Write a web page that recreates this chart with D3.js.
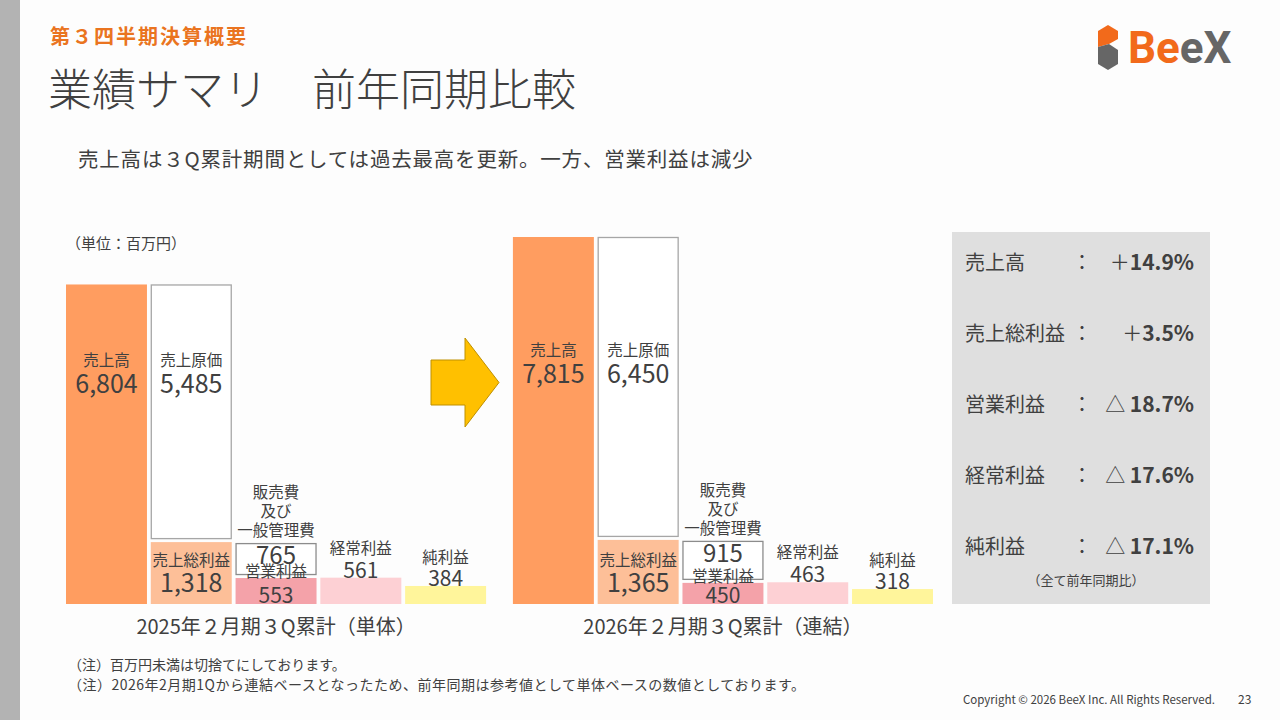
<!DOCTYPE html>
<html lang="ja">
<head>
<meta charset="utf-8">
<script src="https://cdn.jsdelivr.net/npm/d3@7"></script>
<style>
  html, body { margin: 0; padding: 0; background: #fdfdfd; }
  svg { display: block; font-family: "Noto Sans CJK JP", "Noto Sans", sans-serif; }
</style>
</head>
<body>
<svg id="slide" width="1280" height="720"></svg>
<script>
/* 業績サマリ 前年同期比較 */

const periods = ["2025年２月期３Q累計（単体）", "2026年２月期３Q累計（連結）"];
const sales = [6804, 7815];
const costOfSales = [5485, 6450];
const grossProfit = [1318, 1365];
const sgaExpenses = [765, 915];
const operatingProfit = [553, 450];
const ordinaryProfit = [561, 463];
const netProfit = [384, 318];

const yoyLabels = ["売上高", "売上総利益", "営業利益", "経常利益", "純利益"];
const yoySigns = ["＋", "＋", "△ ", "△ ", "△ "];
const yoyValues = ["14.9%", "3.5%", "18.7%", "17.6%", "17.1%"];

const TEXT = "#404040";
const svg = d3.select("#slide");

svg.append("rect").attr("width", 1280).attr("height", 720).attr("fill", "#fdfdfd");
svg.append("rect").attr("width", 20).attr("height", 720).attr("fill", "#b3b3b3");

// Header
svg.append("text").attr("x", 50).attr("y", 44)
  .attr("font-size", 20).attr("font-weight", 700).attr("fill", "#ea7420")
  .attr("letter-spacing", 2)
  .text("第３四半期決算概要");
svg.append("text").attr("x", 48).attr("y", 106)
  .attr("font-size", 44).attr("font-weight", 300).attr("fill", TEXT)
  .text("業績サマリ　前年同期比較");
svg.append("text").attr("x", 78).attr("y", 167)
  .attr("font-size", 20.5).attr("letter-spacing", 0.8).attr("fill", TEXT)
  .text("売上高は３Q累計期間としては過去最高を更新。一方、営業利益は減少");

// Logo
const logo = svg.append("g");
logo.append("polygon").attr("points", "1098,31 1108,25 1118,31 1118,39 1109,44 1098,47").attr("fill", "#f26a1b");
logo.append("polygon").attr("points", "1098,47 1109,44 1118,50 1118,64 1108,70 1098,64").attr("fill", "#666666");
const logoText = logo.append("text").attr("x", 1128).attr("y", 63)
  .attr("font-family", "Roboto, sans-serif").attr("font-size", 44).attr("font-weight", 700);
logoText.append("tspan").attr("fill", "#f26a1b").text("Be");
logoText.append("tspan").attr("fill", "#666666").text("eX");

svg.append("text").attr("x", 66).attr("y", 249)
  .attr("font-size", 15).attr("fill", TEXT).text("（単位：百万円）");

// Scales
const baseY = 604;
const y = d3.scaleLinear().domain([0, d3.max(sales)]).range([baseY, 237]);
const xPeriod = d3.scaleBand().domain(periods).range([66, 933]).paddingInner(0.06);
const xCol = d3.scaleBand().domain(d3.range(5)).range([0, xPeriod.bandwidth()]).paddingInner(0.045);
const bw = xCol.bandwidth();
const cx = c => xCol(c) + bw / 2;

const fills = ["#ff9d60", "#fdbf98", "#f4a2a9", "#fdd0d4", "#fff59b"];
const headY = [366, 356]; // 売上高 / 売上原価 label position per chart

const rows = periods.map((p, i) => ({
  period: p, i,
  sales: sales[i], cost: costOfSales[i], gross: grossProfit[i],
  sga: sgaExpenses[i], op: operatingProfit[i], ord: ordinaryProfit[i], net: netProfit[i]
}));

const charts = svg.selectAll("g.chart")
  .data(rows)
  .join("g")
  .attr("class", "chart")
  .attr("transform", d => `translate(${xPeriod(d.period)},0)`);

// Filled bars
charts.selectAll("rect.bar")
  .data(d => [d.sales, d.gross, d.op, d.ord, d.net].map((v, c) => ({ v, c })))
  .join("rect")
  .attr("class", "bar")
  .attr("x", d => xCol(d.c))
  .attr("y", d => y(d.v))
  .attr("width", bw)
  .attr("height", d => baseY - y(d.v))
  .attr("fill", d => fills[d.c]);

// Outlined boxes: 売上原価 (sales -> gross) and 販管費 (gross -> operating)
charts.selectAll("rect.box")
  .data(d => [
    { c: 1, top: y(d.sales), bottom: y(d.gross) - 3 },
    { c: 2, top: y(d.gross) + 1, bottom: y(d.op) - 3 }
  ])
  .join("rect")
  .attr("class", "box")
  .attr("x", d => xCol(d.c) + 0.5)
  .attr("y", d => d.top + 0.5)
  .attr("width", bw - 1)
  .attr("height", d => d.bottom - d.top - 1)
  .attr("fill", "#ffffff")
  .attr("stroke", (d, i) => i === 0 ? "#a6a6a6" : "#8c8c8c")
  .attr("stroke-width", 1.3);

const fmt = d3.format(",");
function txt(g, x, yy, s, size) {
  return g.append("text").attr("x", x).attr("y", yy)
    .attr("text-anchor", "middle").attr("font-size", size).attr("fill", TEXT).text(s);
}

charts.each(function (d) {
  const g = d3.select(this);
  const hy = headY[d.i];
  // 売上高
  txt(g, cx(0), hy, "売上高", 15.5);
  txt(g, cx(0), hy + 27, fmt(d.sales), 25);
  // 売上原価
  txt(g, cx(1), hy, "売上原価", 15.5);
  txt(g, cx(1), hy + 27, fmt(d.cost), 25);
  // 売上総利益
  txt(g, cx(1), baseY - 38, "売上総利益", 15.5);
  txt(g, cx(1), baseY - 12, fmt(d.gross), 25);
  // 販売費及び一般管理費
  const sgaTop = y(d.gross);
  ["販売費", "及び", "一般管理費"].forEach((s, k) =>
    txt(g, cx(2), sgaTop - 6 - 19 * (2 - k), s, 15.5));
  txt(g, cx(2), sgaTop + 22, fmt(d.sga), 24);
  // 営業利益
  txt(g, cx(2), y(d.op) - 1, "営業利益", 15.5);
  txt(g, cx(2), baseY - 1, fmt(d.op), 21);
  // 経常利益
  txt(g, cx(3), y(d.ord) - 24, "経常利益", 15.5);
  txt(g, cx(3), y(d.ord), fmt(d.ord), 21);
  // 純利益
  txt(g, cx(4), y(d.net) - 23, "純利益", 15.5);
  txt(g, cx(4), y(d.net), fmt(d.net), 21);
  // period caption
  txt(g, xPeriod.bandwidth() / 2, 634, d.period, 20);
});

// Arrow between periods
const ax = 431, ay = 338, shaftW = 34, headW = 34, shaftTop = 22, h = 89;
svg.append("polygon")
  .attr("points", [
    [ax, ay + shaftTop], [ax + shaftW, ay + shaftTop], [ax + shaftW, ay],
    [ax + shaftW + headW, ay + h / 2], [ax + shaftW, ay + h],
    [ax + shaftW, ay + h - shaftTop], [ax, ay + h - shaftTop]
  ].map(p => p.join(",")).join(" "))
  .attr("fill", "#ffc000")
  .attr("stroke", "#bf9000")
  .attr("stroke-width", 1);

// YoY panel
svg.append("rect").attr("x", 952).attr("y", 232).attr("width", 258).attr("height", 372)
  .attr("fill", "#dfdfdf");
const yRow = d3.scalePoint().domain(yoyLabels).range([270, 554]);
const panel = svg.selectAll("g.yoy")
  .data(yoyLabels.map((l, i) => ({ l, sign: yoySigns[i], v: yoyValues[i] })))
  .join("g").attr("class", "yoy");
panel.append("text").attr("x", 965).attr("y", d => yRow(d.l))
  .attr("font-size", 20).attr("fill", TEXT).text(d => d.l);
panel.append("text").attr("x", 1082).attr("y", d => yRow(d.l))
  .attr("text-anchor", "middle").attr("font-size", 20).attr("fill", TEXT).text("：");
const val = panel.append("text").attr("x", 1194).attr("y", d => yRow(d.l))
  .attr("text-anchor", "end").attr("font-size", 20).attr("fill", TEXT);
val.append("tspan").text(d => d.sign);
val.append("tspan").attr("font-weight", 700).attr("font-size", 21).text(d => d.v);
svg.append("text").attr("x", 1086).attr("y", 585).attr("text-anchor", "middle")
  .attr("font-size", 13).attr("fill", TEXT).text("（全て前年同期比）");

// Footer
svg.append("text").attr("x", 68).attr("y", 670).attr("font-size", 14).attr("fill", TEXT)
  .text("（注）百万円未満は切捨てにしております。");
svg.append("text").attr("x", 68).attr("y", 690).attr("font-size", 14).attr("letter-spacing", 0.5).attr("fill", TEXT)
  .text("（注）2026年2月期1Qから連結ベースとなったため、前年同期は参考値として単体ベースの数値としております。");
svg.append("text").attr("x", 1215).attr("y", 704).attr("text-anchor", "end")
  .attr("font-size", 11.5).attr("fill", TEXT).text("Copyright © 2026 BeeX Inc. All Rights Reserved.");
svg.append("text").attr("x", 1238).attr("y", 704)
  .attr("font-size", 12).attr("fill", TEXT).text("23");
</script>
</body>
</html>
